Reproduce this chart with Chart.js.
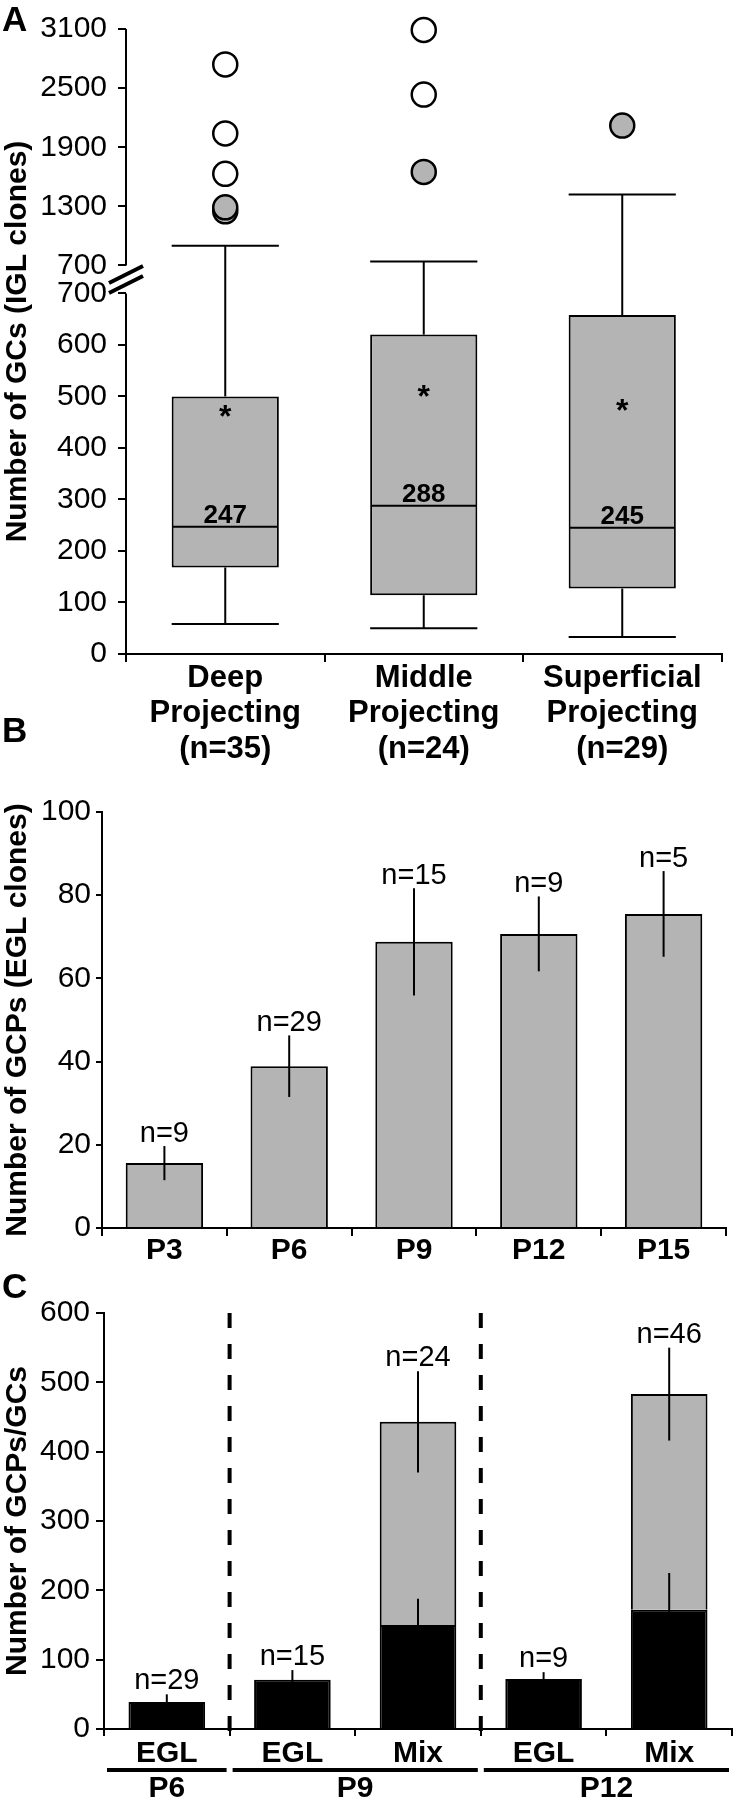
<!DOCTYPE html>
<html>
<head>
<meta charset="utf-8">
<script src="https://cdn.jsdelivr.net/npm/chart.js@4.4.1/dist/chart.umd.min.js"></script>
<style>
  body { margin: 0; background: #fff; }
  #wrap { position: relative; width: 736px; height: 1800px; }
  canvas { position: absolute; left: 0; }
</style>
</head>
<body>
<div id="wrap">
  <canvas id="chartA" width="736" height="780" style="top:0"></canvas>
  <canvas id="chartB" width="736" height="580" style="top:690px"></canvas>
  <canvas id="chartC" width="736" height="535" style="top:1265px"></canvas>
</div>
<script>
const FONT = '"Liberation Sans", Arial, Helvetica, sans-serif';
const GRAY = '#b4b4b4';

// ─── Panel A data (box plot, IGL clones) ───────────────────────
const CATEGORIES_A = ['Deep', 'Middle', 'Superficial'];
const N_A = [35, 24, 29];
const Q1_A = [168, 114, 127];
const Q3_A = [500, 620, 658];
const MEDIAN_A = [247, 288, 245];
const WHISKER_LO_A = [58, 50, 33];
const WHISKER_HI_A = [900, 740, 1420];
const MEAN_A = [475, 515, 488];
const OPEN_CAT_A = ['Deep', 'Deep', 'Deep', 'Middle', 'Middle'];
const OPEN_VAL_A = [2740, 2040, 1630, 3090, 2435];
const FILLED_CAT_A = ['Deep', 'Deep', 'Middle', 'Superficial'];
const FILLED_VAL_A = [1250, 1290, 1650, 2120];
const TICKS_A_LOW = [0, 100, 200, 300, 400, 500, 600, 700];
const TICKS_A_HIGH = [700, 1300, 1900, 2500, 3100];
const BREAK_A = 700;

// ─── Panel B data (EGL clones) ─────────────────────────────────
const CATEGORIES_B = ['P3', 'P6', 'P9', 'P12', 'P15'];
const MEAN_B = [15.6, 38.9, 68.8, 70.7, 75.5];
const ERR_B = [4.1, 7.4, 12.9, 9.0, 10.3];
const N_B = [9, 29, 15, 9, 5];

// ─── Panel C data (GCPs / GCs) ─────────────────────────────────
const CATEGORIES_C = ['EGL', 'EGL', 'Mix', 'EGL', 'Mix'];
const GCP_C = [39, 71, 150, 72, 172];
const GCP_ERR_C = [11, 14, 38, 10, 53];
const GC_C = [null, null, 293, null, 311];
const GC_ERR_C = [null, null, 73, null, 67];
const N_C = [29, 15, 24, 9, 46];
const AGES_C = ['P6', 'P9', 'P12'];
const AGE_FIRST_C = [0, 1, 3];
const AGE_LAST_C = [0, 2, 4];

Chart.defaults.font.family = FONT;
Chart.defaults.color = '#000';
Chart.defaults.animation = false;

// where the break sits along panel A's axis (fractions of the axis height)
const LOW_SHARE = 0.577, HIGH_SHARE = 0.6216;

class BrokenLinearScale extends Chart.LinearScale {
    buildTicks() {
        const low = TICKS_A_LOW.map(v => ({ value: v }));
        const high = TICKS_A_HIGH.map(v => ({ value: v === BREAK_A ? v + 1e-6 : v }));
        return low.concat(high);
    }
    decimalOf(v) {
        if (v <= BREAK_A) return (v - this.min) / (BREAK_A - this.min) * LOW_SHARE;
        return HIGH_SHARE + (v - BREAK_A) / (this.max - BREAK_A) * (1 - HIGH_SHARE);
    }
    getPixelForValue(v) {
        if (v === null || isNaN(v)) return NaN;
        return this.getPixelForDecimal(this.decimalOf(v));
    }
    getValueForPixel(p) {
        const d = this.getDecimalForPixel(p);
        if (d <= LOW_SHARE) return this.min + d / LOW_SHARE * (BREAK_A - this.min);
        return BREAK_A + (d - HIGH_SHARE) / (1 - HIGH_SHARE) * (this.max - BREAK_A);
    }
}
BrokenLinearScale.id = 'brokenLinear';
BrokenLinearScale.defaults = Chart.LinearScale.defaults;
Chart.register(BrokenLinearScale);

function seg(ctx, x1, y1, x2, y2) {
    ctx.beginPath(); ctx.moveTo(x1, y1); ctx.lineTo(x2, y2); ctx.stroke();
}

// panel letter + rotated y title
function frame(letter, letterY, title) {
    return {
        id: 'frame',
        afterDraw(chart) {
            const { ctx, chartArea } = chart;
            ctx.save();
            ctx.fillStyle = '#000';
            ctx.font = 'bold 35px ' + FONT;
            ctx.textAlign = 'left';
            ctx.textBaseline = 'alphabetic';
            ctx.fillText(letter, 2, letterY);
            ctx.translate(18, (chartArea.top + chartArea.bottom) / 2);
            ctx.rotate(-Math.PI / 2);
            ctx.font = 'bold 30px ' + FONT;
            ctx.textAlign = 'center';
            ctx.textBaseline = 'middle';
            ctx.fillText(title, 0, 0);
            ctx.restore();
        }
    };
}

function xAxis(height, tickLen, stacked) {
    return {
        stacked: !!stacked,
        afterFit: s => { s.height = height; },
        grid: { drawOnChartArea: false, offset: true, tickLength: tickLen, lineWidth: 2, color: '#000' },
        border: { display: true, color: '#000', width: 2 },
        ticks: { display: false }
    };
}

function yAxis(width, tickLen, pad, min, max, step, stacked) {
    return {
        stacked: !!stacked,
        min, max,
        afterFit: s => { s.width = width; },
        grid: { drawOnChartArea: false, tickLength: tickLen, lineWidth: 2, color: '#000' },
        border: { display: true, color: '#000', width: 2 },
        ticks: { stepSize: step, padding: pad, font: { size: 30 }, color: '#000' }
    };
}

const noChrome = { legend: { display: false }, tooltip: { enabled: false } };

// ─── Panel A ───────────────────────────────────────────────────
const boxPlugin = {
    id: 'boxes',
    afterDatasetsDraw(chart) {
        const { ctx } = chart;
        const y = chart.scales.y;
        const meta = chart.getDatasetMeta(0);
        ctx.save();
        ctx.strokeStyle = '#000';
        ctx.fillStyle = '#000';
        ctx.lineWidth = 2;
        meta.data.forEach((bar, i) => {
            const cx = bar.x, half = bar.width / 2;
            const pHi = y.getPixelForValue(WHISKER_HI_A[i]);
            const pLo = y.getPixelForValue(WHISKER_LO_A[i]);
            const pQ1 = y.getPixelForValue(Q1_A[i]);
            const pQ3 = y.getPixelForValue(Q3_A[i]);
            const pMed = y.getPixelForValue(MEDIAN_A[i]);
            seg(ctx, cx, pQ3, cx, pHi);
            seg(ctx, cx - half, pHi, cx + half, pHi);
            seg(ctx, cx, pQ1, cx, pLo);
            seg(ctx, cx - half, pLo, cx + half, pLo);
            seg(ctx, cx - half + 1, pMed, cx + half - 1, pMed);
            ctx.textAlign = 'center';
            ctx.textBaseline = 'alphabetic';
            ctx.font = 'bold 26px ' + FONT;
            ctx.fillText(String(MEDIAN_A[i]), cx, pMed - 4);
            ctx.font = 'bold 32px ' + FONT;
            ctx.fillText('*', cx, y.getPixelForValue(MEAN_A[i]) + 18);
        });
        ctx.restore();
    }
};

const breakPlugin = {
    id: 'axisBreak',
    afterDraw(chart) {
        const { ctx, chartArea } = chart;
        const y = chart.scales.y;
        const ax = chartArea.left;
        const top = y.getPixelForValue(y.max);
        const hiStart = y.getPixelForValue(BREAK_A + 1e-6);
        const loEnd = y.getPixelForValue(BREAK_A);
        ctx.save();
        ctx.strokeStyle = '#000';
        ctx.lineWidth = 2;
        seg(ctx, ax, top, ax, hiStart);
        seg(ctx, ax, loEnd, ax, chartArea.bottom);
        const mid = (hiStart + loEnd) / 2;
        ctx.lineWidth = 4;
        [-5, 5].forEach(o => seg(ctx, ax - 17, mid + o + 8.5, ax + 17, mid + o - 8.5));
        ctx.restore();
    }
};

const xLabelsA = {
    id: 'xLabelsA',
    afterDraw(chart) {
        const { ctx, chartArea } = chart;
        const x = chart.scales.x, b = chartArea.bottom;
        ctx.save();
        ctx.fillStyle = '#000';
        ctx.font = 'bold 31px ' + FONT;
        ctx.textAlign = 'center';
        ctx.textBaseline = 'alphabetic';
        CATEGORIES_A.forEach((c, i) => {
            const cx = x.getPixelForValue(i);
            ctx.fillText(c, cx, b + 33);
            ctx.fillText('Projecting', cx, b + 68);
            ctx.fillText('(n=' + N_A[i] + ')', cx, b + 104);
        });
        ctx.restore();
    }
};

const outlierStyle = { type: 'line', showLine: false, pointRadius: 12, pointBorderWidth: 2.5, pointBorderColor: '#000', clip: false };

new Chart(document.getElementById('chartA'), {
    type: 'bar',
    data: {
        labels: CATEGORIES_A,
        datasets: [
            {
                data: Q1_A.map((q, i) => [q, Q3_A[i]]),
                backgroundColor: GRAY, borderColor: '#000', borderWidth: 2, borderSkipped: false,
                barPercentage: 0.54, categoryPercentage: 1
            },
            Object.assign({ data: OPEN_CAT_A.map((x, i) => ({ x, y: OPEN_VAL_A[i] })), pointBackgroundColor: '#fff' }, outlierStyle),
            Object.assign({ data: FILLED_CAT_A.map((x, i) => ({ x, y: FILLED_VAL_A[i] })), pointBackgroundColor: GRAY }, outlierStyle)
        ]
    },
    options: {
        responsive: false,
        layout: { padding: { top: 25, right: 1, bottom: 0, left: 0 } },
        plugins: noChrome,
        scales: {
            x: xAxis(126, 8),
            y: {
                type: 'brokenLinear', min: 0, max: 3100,
                afterFit: s => { s.width = 126; },
                grid: { drawOnChartArea: false, tickLength: 8, lineWidth: 2, color: '#000' },
                border: { display: false },
                ticks: { autoSkip: false, padding: 11, font: { size: 30 }, color: '#000', callback: v => String(Math.round(v)) }
            }
        }
    },
    plugins: [boxPlugin, breakPlugin, xLabelsA, frame('A', 31, 'Number of GCs (IGL clones)')]
});

// ─── Panel B ───────────────────────────────────────────────────
const errorsB = {
    id: 'errorsB',
    afterDatasetsDraw(chart) {
        const { ctx, chartArea } = chart;
        const x = chart.scales.x, y = chart.scales.y;
        ctx.save();
        ctx.strokeStyle = '#000';
        ctx.fillStyle = '#000';
        ctx.lineWidth = 2;
        ctx.textAlign = 'center';
        ctx.textBaseline = 'alphabetic';
        CATEGORIES_B.forEach((c, i) => {
            const cx = x.getPixelForValue(i);
            const top = y.getPixelForValue(MEAN_B[i] + ERR_B[i]);
            seg(ctx, cx, y.getPixelForValue(MEAN_B[i] - ERR_B[i]), cx, top);
            ctx.font = '29px ' + FONT;
            ctx.fillText('n=' + N_B[i], cx, top - 4);
            ctx.font = 'bold 30px ' + FONT;
            ctx.fillText(c, cx, chartArea.bottom + 31);
        });
        ctx.restore();
    }
};

new Chart(document.getElementById('chartB'), {
    type: 'bar',
    data: {
        labels: CATEGORIES_B,
        datasets: [{
            data: MEAN_B, backgroundColor: GRAY, borderColor: '#000', borderWidth: 2,
            barPercentage: 0.62, categoryPercentage: 1
        }]
    },
    options: {
        responsive: false,
        layout: { padding: { top: 122, right: 10, bottom: 0, left: 0 } },
        plugins: noChrome,
        scales: {
            x: xAxis(42, 8),
            y: yAxis(102, 6, 5, 0, 100, 20)
        }
    },
    plugins: [errorsB, frame('B', 52, 'Number of GCPs (EGL clones)')]
});

// ─── Panel C ───────────────────────────────────────────────────
const errorsC = {
    id: 'errorsC',
    afterDatasetsDraw(chart) {
        const { ctx, chartArea } = chart;
        const x = chart.scales.x, y = chart.scales.y;
        const step = x.getPixelForValue(1) - x.getPixelForValue(0);
        const b = chartArea.bottom;
        ctx.save();
        ctx.strokeStyle = '#000';
        ctx.fillStyle = '#000';
        ctx.lineWidth = 2;
        ctx.textAlign = 'center';
        ctx.textBaseline = 'alphabetic';
        CATEGORIES_C.forEach((c, i) => {
            const cx = x.getPixelForValue(i);
            let top = y.getPixelForValue(GCP_C[i] + GCP_ERR_C[i]);
            seg(ctx, cx, y.getPixelForValue(GCP_C[i] - GCP_ERR_C[i]), cx, top);
            if (GC_C[i] !== null) {
                const total = GCP_C[i] + GC_C[i];
                const t2 = y.getPixelForValue(total + GC_ERR_C[i]);
                seg(ctx, cx, y.getPixelForValue(total - GC_ERR_C[i]), cx, t2);
                top = Math.min(top, t2);
            }
            ctx.font = '29px ' + FONT;
            ctx.fillText('n=' + N_C[i], cx, top - 5);
            ctx.font = 'bold 30px ' + FONT;
            ctx.fillText(c, cx, b + 33);
        });
        // age groups: dashed dividers, underline bars and labels
        AGES_C.forEach((age, g) => {
            const left = x.getPixelForValue(AGE_FIRST_C[g]) - step / 2;
            const right = x.getPixelForValue(AGE_LAST_C[g]) + step / 2;
            if (g > 0) {
                ctx.save();
                ctx.lineWidth = 4;
                ctx.setLineDash([15, 16]);
                seg(ctx, left, chartArea.top, left, b + 4);
                ctx.restore();
            }
            ctx.fillRect(left + 3, b + 39, right - left - 6, 4);
            ctx.font = 'bold 30px ' + FONT;
            ctx.fillText(age, (left + right) / 2, b + 68);
        });
        ctx.restore();
    }
};

new Chart(document.getElementById('chartC'), {
    type: 'bar',
    data: {
        labels: CATEGORIES_C,
        datasets: [
            {
                data: GCP_C, backgroundColor: '#000', borderColor: '#000', borderWidth: 2,
                barPercentage: 0.61, categoryPercentage: 1
            },
            {
                data: GC_C, backgroundColor: GRAY, borderColor: '#000', borderWidth: 2,
                barPercentage: 0.61, categoryPercentage: 1
            }
        ]
    },
    options: {
        responsive: false,
        layout: { padding: { top: 48, right: 4, bottom: 0, left: 0 } },
        plugins: noChrome,
        scales: {
            x: xAxis(71, 7, true),
            y: yAxis(104, 8, 6, 0, 600, 100, true)
        }
    },
    plugins: [errorsC, frame('C', 33, 'Number of GCPs/GCs')]
});
</script>
</body>
</html>
